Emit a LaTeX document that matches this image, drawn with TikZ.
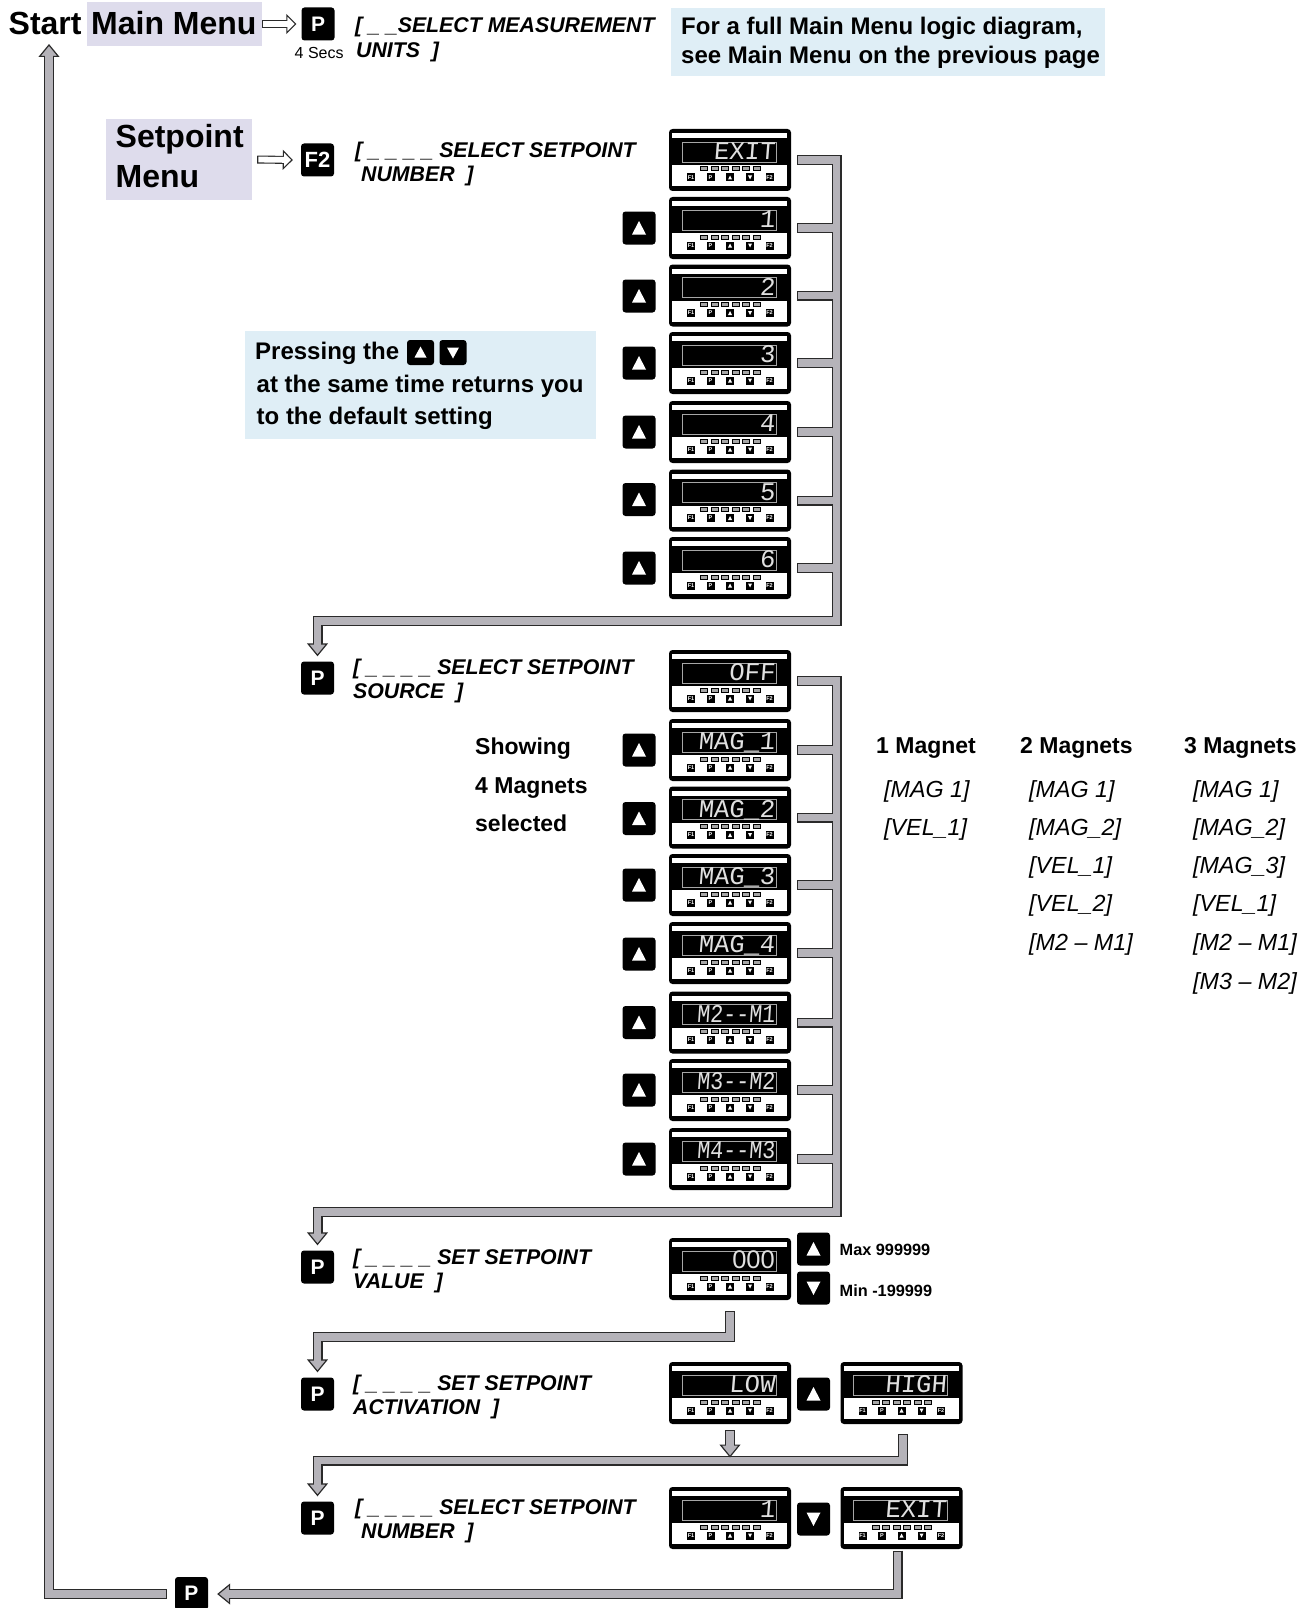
\documentclass[tikz,border=0pt]{standalone}
\usepackage{fontspec}
\setmainfont{Liberation Sans}
\newfontfamily\lcdfont[FakeSlant=0.08]{Liberation Mono}
\usetikzlibrary{arrows.meta,calc}
\definecolor{pipeedge}{HTML}{2A2A2A}
\definecolor{pipefill}{HTML}{B5B3B9}
\definecolor{lilac}{HTML}{DEDCEC}
\definecolor{skyb}{HTML}{DFEEF6}
\newcommand{\fsz}[1]{\fontsize{#1}{#1}\selectfont}
\tikzset{
  x=1pt,y=-1pt,
  pipeO/.style={line width=10pt,draw=pipeedge,line cap=butt,line join=miter},
  pipeI/.style={line width=7.6pt,draw=pipefill,line cap=butt,line join=miter,shorten <=1.2pt},
  pipeA/.style={pipeO,-{Triangle[length=13pt,width=21pt,fill=pipefill,color=pipeedge,line width=1.2pt]}},
  pipeIA/.style={pipeI,shorten >=11pt},
  whiteO/.style={line width=8pt,draw=pipeedge,line cap=butt,-{Triangle[length=10pt,width=20pt,fill=white,color=pipeedge,line width=1.1pt]}},
  whiteI/.style={line width=5.8pt,draw=white,line cap=butt,shorten <=1.1pt,shorten >=8pt},
  keybox/.style={fill=black,rounded corners=3pt,minimum width=33pt,minimum height=33pt,inner sep=0pt,text=white,font=\bfseries\fsz{21}},
  meterbox/.style={fill=black,rounded corners=3.5pt,minimum width=122pt,minimum height=62pt,inner sep=0pt},
  meterlcd/.style={anchor=base east,inner sep=0pt,text=white!88!black,font=\lcdfont\fsz{25.5}},
  minikey/.style={fill=black,minimum size=8pt,inner sep=0pt,text=white,font=\bfseries\fsz{5.5}},
  title/.style={anchor=base west,inner sep=0pt,font=\bfseries\fsz{32}},
  prompt/.style={anchor=base west,inner sep=0pt,font=\bfseries\itshape\fsz{21.3}},
  note/.style={anchor=base west,inner sep=0pt,font=\bfseries\fsz{24}},
  notes/.style={anchor=base west,inner sep=0pt,font=\bfseries\fsz{23}},
  item/.style={anchor=base west,inner sep=0pt,font=\itshape\fsz{23.3}},
  small/.style={anchor=base west,inner sep=0pt,font=\bfseries\fsz{16.3}},
}
\newcommand{\meter}[4]{%
  \node[meterbox] (#1) at (#2,#3) {};
  \begin{scope}[shift={(#1.center)}]
    \fill[white] (-58,-27) rectangle (57,-22);
    \fill[white] (-58,5) rectangle (57,26);
    \draw[gray!70!white,line width=0.8pt] (-48,-18) rectangle (46,2);
    \foreach \lx in {-26,-15.5,-5,5.5,16,26.5}
      \draw[fill=gray!70,draw=black,line width=1pt] (\lx-3.5,7) rectangle (\lx+3.5,11);
    \node[meterlcd] (#1-d) at (45,-0.3) {#4};
    \node[minikey] (#1-f1) at (-39,17.5) {F1};
    \node[minikey] (#1-p) at (-19.5,17.5) {P};
    \node[minikey] (#1-u) at (0,17.5) {};
    \node[minikey] (#1-n) at (20,17.5) {};
    \node[minikey] (#1-f2) at (39.5,17.5) {F2};
    \fill[white] (-2,19.5) -- (2,19.5) -- (0,15.5) -- cycle;
    \fill[white] (18,15.5) -- (22,15.5) -- (20,19.5) -- cycle;
  \end{scope}}
\newcommand{\upkey}[3]{%
  \node[keybox] (#1) at (#2,#3) {};
  \fill[white,shift={(#1.center)}] (-7,6.5) -- (7,6.5) -- (0,-7) -- cycle;}
\newcommand{\downkey}[3]{%
  \node[keybox] (#1) at (#2,#3) {};
  \fill[white,shift={(#1.center)}] (-7,-6.5) -- (7,-6.5) -- (0,7) -- cycle;}
\newcommand{\lbl}[5]{\node[#1] (#2) at (#3,#4) {#5};}
\newcommand{\narrowlcd}[1]{\scalebox{.85}[1]{#1}}
\begin{document}
\begin{tikzpicture}
\useasboundingbox (0,0) rectangle (1316,1608);
% header
\lbl{title}{start}{8.5}{34.5}{Start}
\node[fill=lilac,minimum width=175pt,minimum height=44pt,inner sep=0pt] (mainmenu) at (174.5,24) {};
\lbl{title}{mmtxt}{91}{34.5}{Main Menu}
\node[keybox] (kp0) at (318,24) {P};
\lbl{anchor=base west,inner sep=0pt,font=\fsz{16}}{secs}{294.5}{59}{4 Secs}
\lbl{prompt}{t0a}{355}{33}{[\ \_ \_SELECT MEASUREMENT}
\lbl{prompt}{t0b}{356}{58}{UNITS\ \ ]}
\node[fill=skyb,minimum width=434pt,minimum height=68pt,inner sep=0pt] (info) at (888,42) {};
\lbl{note}{in1}{681}{35}{For a full Main Menu logic diagram,}
\lbl{note}{in2}{681}{63.5}{see Main Menu on the previous page}
\node[fill=lilac,minimum width=146pt,minimum height=81pt,inner sep=0pt] (setmenu) at (179,159.5) {};
\lbl{title}{sm1}{115.5}{148}{Setpoint}
\lbl{title}{sm2}{115.5}{188}{Menu}
\node[keybox,font=\bfseries\fsz{22}] (kf2) at (317.5,160) {F2};
\lbl{prompt}{t1a}{355}{158}{[\ \_ \_ \_ \_ SELECT SETPOINT}
\lbl{prompt}{t1b}{361}{182}{NUMBER\ \ ]}
\draw[whiteO] (mainmenu.east) -- ([xshift=-5pt]kp0.west);
\draw[whiteI] (mainmenu.east) -- ([xshift=-5pt]kp0.west);
\draw[whiteO] ([xshift=5pt]setmenu.east) -- ([xshift=-8pt]kf2.west);
\draw[whiteI] ([xshift=5pt]setmenu.east) -- ([xshift=-8pt]kf2.west);
% note box
\node[fill=skyb,minimum width=351pt,minimum height=108pt,inner sep=0pt] (pressbox) at (420.5,385) {};
\lbl{note}{pr1}{255}{359.5}{Pressing the}
\lbl{note}{pr2}{256.5}{392}{at the same time returns you}
\lbl{note}{pr3}{256.5}{424}{to the default setting}
\node[fill=black,rounded corners=3pt,minimum width=27pt,minimum height=25pt,inner sep=0pt] (icu) at (420.5,352.5) {};
\fill[white,shift={(icu.center)}] (-6,5) -- (6,5) -- (0,-6) -- cycle;
\node[fill=black,rounded corners=3pt,minimum width=27pt,minimum height=25pt,inner sep=0pt] (icd) at (453,352.5) {};
\fill[white,shift={(icd.center)}] (-6,-5) -- (6,-5) -- (0,6) -- cycle;
% first column of meters
\meter{a1}{730}{160}{EXIT}
\meter{a2}{730}{228}{1}
\meter{a3}{730}{295.5}{2}
\meter{a4}{730}{363}{3}
\meter{a5}{730}{432}{4}
\meter{a6}{730}{500.5}{5}
\meter{a7}{730}{568}{6}
\upkey{ua2}{639}{228}\upkey{ua3}{639}{296}\upkey{ua4}{639}{363}\upkey{ua5}{639}{432}\upkey{ua6}{639}{499.5}\upkey{ua7}{639}{568}
\node[keybox] (kp1) at (317.5,678) {P};
\lbl{prompt}{t2a}{353}{674}{[\ \_ \_ \_ \_ SELECT SETPOINT}
\lbl{prompt}{t2b}{353}{698.5}{SOURCE\ \ ]}
\coordinate (busa) at (836.5,621);
\draw[pipeA] ([xshift=6pt]a1.east) -| (busa) -| ([yshift=5pt]kp1.north);
\foreach \m in {a2,a3,a4,a5,a6,a7} \draw[pipeO] ([xshift=6pt]\m.east) -- (\m.east -| busa);
\draw[pipeIA] ([xshift=6pt]a1.east) -| (busa) -| ([yshift=5pt]kp1.north);
\foreach \m in {a2,a3,a4,a5,a6,a7} \draw[pipeI] ([xshift=6pt]\m.east) -- (\m.east -| busa);
% second column
\meter{b1}{730}{681}{OFF}
\meter{b2}{730}{750}{MAG\_1}
\meter{b3}{730}{817.5}{MAG\_2}
\meter{b4}{730}{885}{MAG\_3}
\meter{b5}{730}{953}{MAG\_4}
\meter{b6}{730}{1022.5}{\narrowlcd{M2--M1}}
\meter{b7}{730}{1090}{\narrowlcd{M3--M2}}
\meter{b8}{730}{1159}{\narrowlcd{M4--M3}}
\upkey{ub2}{639}{750}\upkey{ub3}{639}{818.5}\upkey{ub4}{639}{885}\upkey{ub5}{639}{954}\upkey{ub6}{639}{1022.5}\upkey{ub7}{639}{1090}\upkey{ub8}{639}{1159}
\lbl{notes}{sh1}{475}{754.5}{Showing}
\lbl{notes}{sh2}{475}{793.5}{4 Magnets}
\lbl{notes}{sh3}{475}{831.5}{selected}
\node[keybox] (kp2) at (317.5,1267) {P};
\lbl{prompt}{t3a}{353}{1264}{[\ \_ \_ \_ \_ SET SETPOINT}
\lbl{prompt}{t3b}{353}{1288}{VALUE\ \ ]}
\coordinate (busb) at (836.5,1212);
\draw[pipeA] ([xshift=6pt]b1.east) -| (busb) -| ([yshift=5pt]kp2.north);
\foreach \m in {b2,b3,b4,b5,b6,b7,b8} \draw[pipeO] ([xshift=6pt]\m.east) -- (\m.east -| busb);
\draw[pipeIA] ([xshift=6pt]b1.east) -| (busb) -| ([yshift=5pt]kp2.north);
\foreach \m in {b2,b3,b4,b5,b6,b7,b8} \draw[pipeI] ([xshift=6pt]\m.east) -- (\m.east -| busb);
% magnet lists
\lbl{notes}{c1h}{876}{753}{1 Magnet}
\lbl{notes}{c2h}{1020}{753}{2 Magnets}
\lbl{notes}{c3h}{1184}{753}{3 Magnets}
\lbl{item}{c1a}{884}{797}{[MAG 1]}
\lbl{item}{c1b}{884}{835}{[VEL\_1]}
\lbl{item}{c2a}{1029}{797}{[MAG 1]}
\lbl{item}{c2b}{1029}{835}{[MAG\_2]}
\lbl{item}{c2c}{1029}{873}{[VEL\_1]}
\lbl{item}{c2d}{1029}{911}{[VEL\_2]}
\lbl{item}{c2e}{1029}{950}{[M2 – M1]}
\lbl{item}{c3a}{1193}{797}{[MAG 1]}
\lbl{item}{c3b}{1193}{835}{[MAG\_2]}
\lbl{item}{c3c}{1193}{873}{[MAG\_3]}
\lbl{item}{c3d}{1193}{911}{[VEL\_1]}
\lbl{item}{c3e}{1193}{950}{[M2 – M1]}
\lbl{item}{c3f}{1193}{989}{[M3 – M2]}
% value
\meter{v1}{730}{1269}{{\normalfont\fsz{25.5}000}}
\upkey{uv}{813.5}{1249}
\downkey{dv}{813.5}{1288}
\lbl{small}{maxt}{839.5}{1255}{Max 999999}
\lbl{small}{mint}{839.5}{1296}{Min -199999}
\node[keybox] (kp3) at (317.5,1394) {P};
\lbl{prompt}{t4a}{353}{1390}{[\ \_ \_ \_ \_ SET SETPOINT}
\lbl{prompt}{t4b}{353}{1414}{ACTIVATION\ \ ]}
\coordinate (busv) at (730,1337);
\draw[pipeA] ([yshift=-11pt]v1.south) |- (busv) -| ([yshift=5pt]kp3.north);
\draw[pipeIA] ([yshift=-11pt]v1.south) |- (busv) -| ([yshift=5pt]kp3.north);
% activation
\meter{w1}{730}{1393}{LOW}
\upkey{uw}{813.5}{1394}
\meter{w2}{901.5}{1393}{HIGH}
\node[keybox] (kp4) at (317.5,1518) {P};
\lbl{prompt}{t5a}{355}{1514}{[\ \_ \_ \_ \_ SELECT SETPOINT}
\lbl{prompt}{t5b}{361}{1538.5}{NUMBER\ \ ]}
\coordinate (busw) at (903,1460.5);
\draw[pipeA] ([xshift=1.5pt,yshift=-10pt]w2.south) |- (busw -| kp4) -- ([yshift=5pt]kp4.north);
\draw[pipeIA] ([xshift=1.5pt,yshift=-10pt]w2.south) |- (busw -| kp4) -- ([yshift=5pt]kp4.north);
\draw[pipeA] ([yshift=-6pt]w1.south) -- ([yshift=3pt]w1.south |- busw);
\draw[pipeIA] ([yshift=-6pt]w1.south) -- ([yshift=3pt]w1.south |- busw);
% exit
\meter{x1}{730}{1518}{1}
\downkey{dx}{813.5}{1519}
\meter{x2}{901.5}{1518}{EXIT}
\node[keybox] (kp5) at (191.5,1593.5) {P};
\coordinate (busx) at (897.5,1594);
\coordinate (busy) at (49,1594);
\draw[pipeA] ([xshift=-4pt,yshift=-1.5pt]x2.south) |- ([xshift=9pt]kp5.east |- busx);
\draw[pipeIA] ([xshift=-4pt,yshift=-1.5pt]x2.south) |- ([xshift=9pt]kp5.east |- busx);
\draw[pipeA] ([xshift=-8pt]kp5.west |- busy) -- (busy) -- (49,44);
\draw[pipeIA] ([xshift=-8pt]kp5.west |- busy) -- (busy) -- (49,44);
\end{tikzpicture}
\end{document}
